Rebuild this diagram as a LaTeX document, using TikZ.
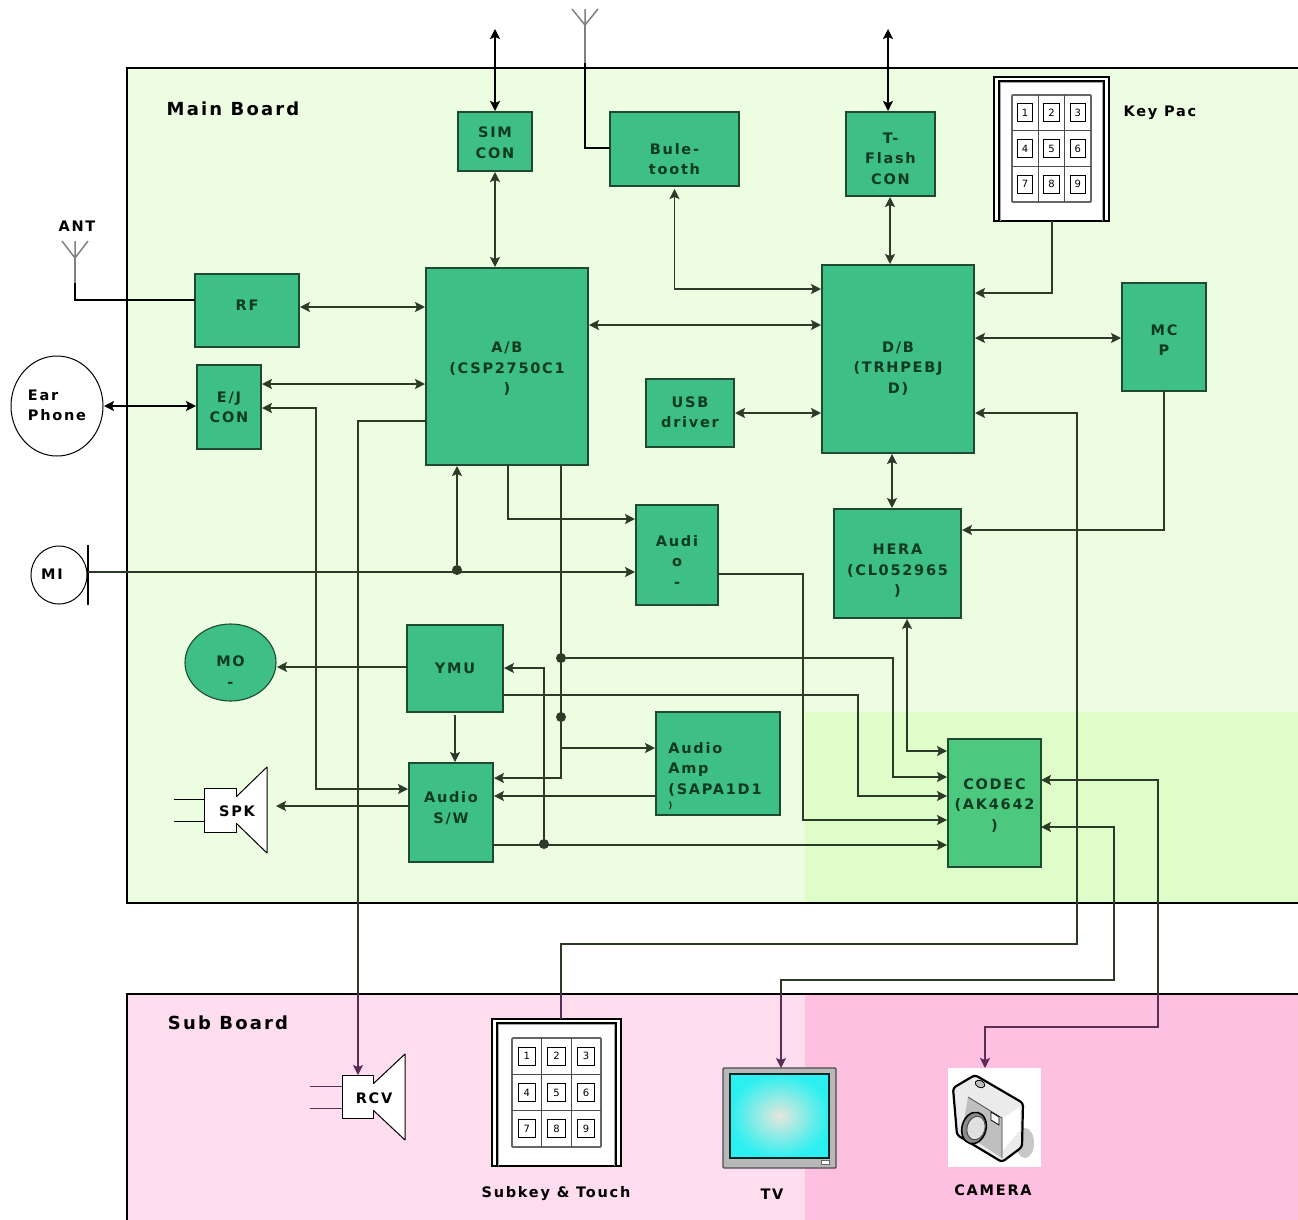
\documentclass[tikz,border=0pt]{standalone}
\usepackage{fontspec}
\setmainfont[LetterSpace=12]{DejaVu Sans}
\usetikzlibrary{arrows.meta,shapes.geometric}
\definecolor{mainbg}{HTML}{ECFDE2}
\definecolor{mainbgd}{HTML}{DFFDC9}
\definecolor{subbg}{HTML}{FEDDEF}
\definecolor{subbgd}{HTML}{FEC0E1}
\definecolor{boxfill}{HTML}{3DBF85}
\definecolor{codecfill}{HTML}{4CC97F}
\definecolor{boxedge}{HTML}{1D4A30}
\definecolor{boxtext}{HTML}{0E3A22}
\definecolor{wire}{HTML}{2B3B27}
\definecolor{wine}{HTML}{5B2C55}
\definecolor{tvmid}{HTML}{E6E6DC}
\definecolor{tvedge}{HTML}{2CF0F0}
\newcommand\mlab[2]{\raisebox{\dimexpr#1-4pt\relax}[0pt][0pt]{\begin{tabular}[c]{@{}c@{}}#2\end{tabular}}}
\newcommand\llab[2]{\raisebox{\dimexpr#1-4pt\relax}[0pt][0pt]{\begin{tabular}[c]{@{}l@{}}#2\end{tabular}}}
\tikzset{
  x=1pt,y=-1pt,
  >={Stealth[length=10pt,width=10pt,inset=2pt]},
  gbox/.style={draw=boxedge,line width=1.1pt,fill=boxfill,text=boxtext,inner sep=0pt,outer sep=0pt,
    font=\fontsize{14.5}{20.5}\selectfont\bfseries},
  wbox/.style={draw=black,line width=1pt,fill=white,text=black,inner sep=0pt,outer sep=0pt,
    font=\fontsize{14.5}{20.5}\selectfont\bfseries},
  txt/.style={inner sep=0pt,outer sep=0pt,text=black,font=\fontsize{14.5}{20}\selectfont\bfseries},
  bigtxt/.style={inner sep=0pt,outer sep=0pt,text=black,font=\fontsize{18}{22}\selectfont\bfseries},
  wr/.style={draw=wire,line width=1.4pt},
  ar/.style={wr,->,shorten >=1pt},
  bi/.style={wr,<->,shorten >=1pt,shorten <=1pt},
  dot/.style={circle,fill=wire,draw=none,minimum size=10pt,inner sep=0pt,outer sep=0pt},
  spkbody/.style={draw=black,line width=1pt,fill=white,line join=round},
}
\newcommand\keypadicon[9]{%
  \pgfmathsetmacro\kw{#4-#2}\pgfmathsetmacro\kh{#5-#3}
  \pgfmathsetmacro\kcx{(#4+#2)/2}\pgfmathsetmacro\kcy{(#5+#3)/2}
  \node[draw=black,line width=1.2pt,fill=white,minimum width=\kw pt,minimum height=\kh pt,inner sep=0pt,outer sep=0pt] (#1) at (\kcx,\kcy) {};
  \draw[black,line width=1.2pt] (#2+5,#5) -- (#2+5,#3+4) -- (#4-5,#3+4) -- (#4-5,#5);
  \draw[black!35!white,line width=1.6pt] (#2+6.5,#5) -- (#2+6.5,#3+5.5) -- (#4-6.5,#3+5.5) -- (#4-6.5,#5);
  \draw[draw=black!60!white,line width=1.8pt,rounded corners=1pt] (#6,#7) rectangle (#8,#9);
  \pgfmathsetmacro\cw{(#8-#6)/3}\pgfmathsetmacro\ch{(#9-#7)/3}
  \foreach \i in {1,2}{
    \draw[black!70!white,line width=1.4pt] (#6+\i*\cw,#7) -- (#6+\i*\cw,#9);
    \draw[black!70!white,line width=1.4pt] (#6,#7+\i*\ch) -- (#8,#7+\i*\ch);
  }
  \foreach \r in {0,1,2}{\foreach \c in {0,1,2}{
    \pgfmathtruncatemacro\n{3*\r+\c+1}
    \pgfmathsetmacro\px{#6+(\c+.5)*\cw}\pgfmathsetmacro\py{#7+(\r+.5)*\ch}
    \node[draw=black,line width=1pt,fill=white,minimum width=.58*\cw pt,minimum height=.5*\ch pt,inner sep=0pt,outer sep=0pt,font=\fontsize{10}{10}\selectfont] (#1-\n) at (\px,\py) {\addfontfeature{LetterSpace=0}\n};
  }}
}
\begin{document}
\begin{tikzpicture}
\useasboundingbox (0,0) rectangle (1298,1219);
\fill[white] (0,0) rectangle (1298,1219);
% boards
\fill[mainbg] (127,68) rectangle (1298,903);
\fill[mainbgd] (805,712) rectangle (1298,903);
\draw[black,line width=1.1pt] (1300,68) -- (127,68) -- (127,903) -- (1300,903);
\fill[subbg] (127,994) rectangle (1298,1221);
\fill[subbgd] (805,994) rectangle (1298,1221);
\draw[black,line width=1.1pt] (1300,994) -- (127,994) -- (127,1221);
\node[bigtxt] (mainlbl) at (233,109) {Main Board};
\node[bigtxt] (sublbl) at (228,1023) {Sub Board};

% boxes
\node[gbox,minimum width=74pt,minimum height=59pt] (sim) at (495,141.5) {\mlab{-2pt}{SIM\\CON}};
\node[gbox,minimum width=129pt,minimum height=74pt] (bt) at (674.5,149) {\mlab{-11pt}{Bule-\\tooth}};
\node[gbox,minimum width=89pt,minimum height=84pt] (tf) at (890.5,154) {\mlab{-5pt}{T-\\Flash\\CON}};
\node[gbox,minimum width=104pt,minimum height=73pt] (rf) at (247,310.5) {\mlab{5pt}{RF}};
\node[gbox,minimum width=64pt,minimum height=84pt] (ej) at (229,407) {\mlab{-1pt}{E/J\\CON}};
\node[gbox,minimum width=162pt,minimum height=197pt] (ab) at (507,366.5) {\mlab{-2pt}{A/B\\(CSP2750C1\\)}};
\node[gbox,minimum width=152pt,minimum height=188pt] (db) at (898,359) {\mlab{-9pt}{D/B\\(TRHPEBJ\\D)}};
\node[gbox,minimum width=88pt,minimum height=68pt] (usb) at (690,413) {\mlab{0pt}{USB\\driver}};
\node[gbox,minimum width=84pt,minimum height=108pt] (mcp) at (1164,337) {\mlab{-4pt}{MC\\P}};
\node[gbox,minimum width=127pt,minimum height=109pt] (hera) at (897.5,563.5) {\mlab{-7pt}{HERA\\(CL052965\\)}};
\node[gbox,minimum width=82pt,minimum height=100pt] (audio) at (677,555) {\mlab{-7pt}{Audi\\o\\-}};
\node[gbox,minimum width=96pt,minimum height=87pt] (ymu) at (455,668.5) {\mlab{0pt}{YMU}};
\node[gbox,minimum width=84pt,minimum height=99pt] (sw) at (451,812.5) {\mlab{4pt}{Audio\\S/W}};
\node[gbox,minimum width=124pt,minimum height=103pt] (amp) at (718,763.5) {\kern-6pt\llab{-13pt}{Audio\\Amp\\(SAPA1D1\\[-6pt]{\fontsize{9}{9}\selectfont)}}};
\node[gbox,fill=codecfill,minimum width=93pt,minimum height=128pt] (codec) at (994.5,803) {\mlab{-2pt}{CODEC\\(AK4642\\)}};
\node[gbox,ellipse,minimum width=91pt,minimum height=77pt] (mot) at (230.5,662.5) {\mlab{-10pt}{MO\\-}};
\node[wbox,ellipse,minimum width=92pt,minimum height=100pt] (ear) at (57,406) {\llab{0pt}{Ear\\Phone}};
\node[wbox,ellipse,minimum width=56pt,minimum height=58pt] (mi) at (59,575) {\kern-14pt\mlab{0pt}{MI}};
\draw[black,line width=1.6pt] (88,545) -- (88,605);
\coordinate (mib) at (88,572);

% speakers
\draw[spkbody] (236,797) -- (267,767) -- (267,853) -- (236,823) -- cycle;
\draw[spkbody] (236,797) -- (236,788) -- (204,788) -- (204,832) -- (236,832) -- (236,823);
\fill[white] (234,797) rectangle (238,823);
\draw[black,line width=1pt] (174,799) -- (204,799) (174,821) -- (204,821);
\node[txt] (spk) at (237,811) {SPK};
\coordinate (spkr) at (275,806);
\draw[spkbody] (373,1084) -- (405,1054) -- (405,1140) -- (373,1110) -- cycle;
\draw[spkbody] (373,1084) -- (373,1075) -- (342,1075) -- (342,1118) -- (373,1118) -- (373,1110);
\fill[white] (371,1084) rectangle (375,1110);
\draw[wine,line width=1pt] (310,1086) -- (342,1086) (310,1108) -- (342,1108);
\node[txt] (rcv) at (374,1098) {RCV};
\coordinate (rcvtop) at (358,1075);

% antennas
\coordinate (antj) at (75,258);
\coordinate (btj) at (585,25);
\draw[black!50!white,line width=1.5pt] (62,241) -- (antj) -- (88,241) (antj) -- (75,241);
\draw[black!50!white,line width=2pt] (antj) -- (75,285);
\draw[black,line width=1.2pt] (75,283) -- (75,300) -- (rf.west |- 0,300);
\draw[black!50!white,line width=1.5pt] (572,9) -- (btj) -- (598,9) (btj) -- (585,9);
\draw[black!50!white,line width=2pt] (btj) -- (585,65);
\draw[black,line width=1.2pt] (585,63) -- (585,148) -- (bt.west |- 0,148);
\node[txt] (antl) at (77,226) {ANT};
\node[txt] (keyl) at (1160,113) {Key Pac};

% keypads
\keypadicon{kp}{994}{77}{1109}{221}{1012}{95}{1091}{202}
\keypadicon{sk}{492}{1019}{621}{1166}{512}{1038}{601}{1147}
\node[txt] (skl) at (556,1194) {Subkey \& Touch};

% TV
\node[draw=black!70!white,line width=1.4pt,fill=black!28!white,rounded corners=1pt,minimum width=113pt,minimum height=100pt,inner sep=0pt,outer sep=0pt] (tv) at (779.5,1118) {};
\shade[inner color=tvmid,outer color=tvedge] (730,1074) rectangle (829,1158);
\draw[black!70!teal,line width=1.3pt] (730,1074) rectangle (829,1158);
\draw[black!60!white,line width=.8pt,fill=white] (821,1160) rectangle (829,1164);
\node[txt] (tvl) at (772,1194) {TV};

% camera
\node[draw=none,fill=white,minimum width=93pt,minimum height=99pt,inner sep=0pt,outer sep=0pt] (cam) at (994.5,1117.5) {};
\fill[black!22!white] (1025,1143) ellipse (9pt and 15pt);
\fill[black!8!white,rounded corners=3pt] (1002,1162) -- (957,1135) -- (953,1088) -- (975,1075) -- (1023,1103) -- (1022,1147) -- cycle;
\fill[black!25!white] (968,1097) -- (1002,1118) -- (1002,1158) -- (962,1132) -- cycle;
\fill[white] (1003,1118) -- (1020,1107) -- (1020,1130) -- (1003,1150) -- cycle;
\draw[black!70!white,line width=.8pt] (968,1097) -- (1002,1118) -- (1002,1158);
\draw[black,line width=2.2pt,line join=round,rounded corners=3pt] (1002,1162) -- (957,1135) -- (953,1088) -- (975,1075) -- (1023,1103) -- (1022,1147) -- cycle;
\draw[black,line width=.8pt,fill=black!25!white,rotate around={-25:(980,1084)}] (980,1084) ellipse (5pt and 3.5pt);
\draw[black,line width=.8pt,fill=white] (991,1112) -- (999,1117) -- (999,1125) -- (991,1120) -- cycle;
\draw[black,line width=1.6pt,fill=black!45!white,rotate around={-15:(974,1128)}] (974,1128) ellipse (12pt and 16pt);
\draw[black!70!white,line width=1pt,fill=black!12!white,rotate around={-15:(976,1128)}] (976,1128) ellipse (9pt and 12pt);
\node[txt] (caml) at (993,1190) {CAMERA};

% connectors
\coordinate (simtop) at (495,28);
\draw[bi,draw=black] (simtop) -- (simtop |- sim.north);
\draw[bi] (sim.south) -- (sim.south |- ab.north);
\draw[bi] (bt.south |- 0,188) -- (bt.south |- 0,289) -- (db.west |- 0,289);
\coordinate (tftop) at (888,28);
\draw[bi,draw=black] (tftop) -- (tftop |- tf.north);
\draw[bi] (890,196) -- (890,265);
\draw[ar] (kp.south -| 1052,0) -- (1052,293) -- (db.east |- 0,293);
\draw[bi] (db.east |- 0,338) -- (mcp.west |- 0,338);
\draw[bi] (ab.east |- 0,325) -- (db.west |- 0,325);
\draw[bi] (rf.east |- 0,307) -- (ab.west |- 0,307);
\draw[bi] (ej.east |- 0,384) -- (ab.west |- 0,384);
\draw[bi,draw=black] (ear.east) -- (ej.west |- ear.east);
\draw[bi] (ej.east |- 0,408) -- (316,408) -- (316,789) -- (sw.west |- 0,789);
\draw[bi] (usb.east) -- (db.west |- usb.east);
\draw[bi] (db.south -| 892,0) -- (hera.north -| 892,0);
\draw[ar] (mcp.south) -- (mcp.south |- 0,530) -- (hera.east |- 0,530);
\draw[ar] (ab.south -| 508,0) -- (508,519) -- (audio.west |- 0,519);
\draw[ar] (mib) -- (audio.west |- mib);
\node[dot] (d1) at (457,570) {};
\draw[ar] (d1) -- (d1 |- ab.south);
\draw[ar] (ab.south -| 561,0) -- (561,778) -- (sw.east |- 0,778);
\node[dot] (d2) at (561,658) {};
\node[dot] (d3) at (561,717) {};
\draw[ar] (d2) -- (893,658) -- (893,777) -- (codec.west |- 0,777);
\coordinate (ampj) at (561,748);
\draw[ar] (ampj) -- (amp.west |- ampj);
\draw[ar] (audio.east |- 0,574) -- (803,574) -- (803,820) -- (codec.west |- 0,820);
\draw[ar] (ymu.west |- 0,667) -- (mot.east |- 0,667);
\draw[ar] (ymu.south |- 0,715) -- (ymu.south |- sw.north);
\draw[ar] (ymu.east |- 0,695) -- (858,695) -- (858,796) -- (codec.west |- 0,796);
\draw[ar] (sw.east |- 0,845) -- (codec.west |- 0,845);
\node[dot] (d4) at (544,844) {};
\draw[ar] (d4) -- (544,668) -- (ymu.east |- 0,668);
\draw[ar] (amp.west |- 0,796) -- (sw.east |- 0,796);
\draw[ar] (sw.west |- 0,806) -- (spkr);
\draw[bi] (hera.south -| 907,0) -- (907,751) -- (codec.west |- 0,751);
% connectors that run into the sub board
\coordinate (e1) at (358,994);
\draw[wr] (ab.west |- 0,421) -- (358,421) -- (e1);
\draw[wr,draw=wine,->] (e1) -- (rcvtop);
\coordinate (e2) at (561,994);
\draw[wr,draw=wine] (sk.north -| e2) -- (e2);
\draw[ar] (e2) -- (561,944) -- (1077,944) -- (1077,413) -- (db.east |- 0,413);
\coordinate (e3) at (1158,994);
\draw[wr,<-] (codec.east |- 0,780) -- (1158,780) -- (e3);
\draw[wr,draw=wine,->] (e3) -- (1158,1027) -- (985,1027) -- (985,0 |- cam.north);
\coordinate (e4) at (781,994);
\draw[wr,<-] (codec.east |- 0,827) -- (1114,827) -- (1114,980) -- (781,980) -- (e4);
\draw[wr,draw=wine,->] (e4) -- (e4 |- tv.north);
\end{tikzpicture}
\end{document}
